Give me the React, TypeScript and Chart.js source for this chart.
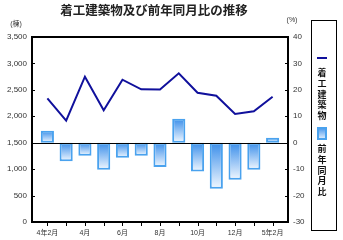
import React, { useEffect, useRef } from 'react';
import { Chart, registerables } from 'chart.js';

Chart.register(...registerables);

const categories = ['4年2月', '3月', '4月', '5月', '6月', '7月', '8月', '9月', '10月', '11月', '12月', '5年1月', '5年2月'];
const buildings = [2340, 1917, 2749, 2113, 2692, 2510, 2505, 2813, 2446, 2390, 2043, 2094, 2371];
const yoyRatio = [4.5, -7.0, -4.9, -10.2, -5.7, -4.9, -9.2, 9.1, -10.9, -17.4, -14.0, -10.2, 1.9];
const titleText = '着工建築物及び前年同月比の推移';
const leftUnit = '(棟)';
const rightUnit = '(%)';
const legendLine = '着工建築物';
const legendBar = '前年同月比';

const LINE_COLOR = '#10109C';
const BAR_BORDER = '#4AA2EE';
const BAR_TOP = '#3A8EEA';
const BAR_BOTTOM = '#F2F8FF';
const TEXT = '#333';
const CJK = '"Liberation Sans", "Noto Sans CJK JP", sans-serif';

function barGradient(ctx: CanvasRenderingContext2D, top: number, bottom: number) {
  const g = ctx.createLinearGradient(0, top, 0, Math.max(bottom, top + 1));
  g.addColorStop(0, BAR_TOP);
  g.addColorStop(1, BAR_BOTTOM);
  return g;
}

const decorPlugin = {
  id: 'decor',
  afterDatasetsDraw(chart: any) {
    const { ctx, chartArea, scales } = chart;
    const L = chartArea.left - 6;
    const R = chartArea.right + 6;
    const T = chartArea.top;
    const B = chartArea.bottom;
    ctx.save();
    // zero line
    const z = Math.round(scales.y2.getPixelForValue(0)) + 0.5;
    ctx.strokeStyle = '#000';
    ctx.lineWidth = 1;
    ctx.beginPath();
    ctx.moveTo(L, z);
    ctx.lineTo(R, z);
    ctx.stroke();
    // ticks
    ctx.beginPath();
    for (let v = 0; v <= 3500; v += 500) {
      const y = Math.round(scales.y.getPixelForValue(v)) + 0.5;
      ctx.moveTo(L, y);
      ctx.lineTo(L + 3, y);
    }
    for (let v = -30; v <= 40; v += 10) {
      const y = Math.round(scales.y2.getPixelForValue(v)) + 0.5;
      ctx.moveTo(R - 3, y);
      ctx.lineTo(R, y);
    }
    for (let i = 0; i < categories.length; i++) {
      const x = Math.round(scales.x.getPixelForValue(i)) + 0.5;
      ctx.moveTo(x, B);
      ctx.lineTo(x, B + 4);
    }
    ctx.stroke();
    // frame
    ctx.lineWidth = 2;
    ctx.strokeRect(L, T, R - L, B - T);
    ctx.restore();
  },
  afterDraw(chart: any) {
    const { ctx } = chart;
    ctx.save();
    ctx.fillStyle = '#222';
    ctx.textAlign = 'center';
    ctx.textBaseline = 'middle';
    ctx.font = 'bold 12.5px "Noto Sans CJK JP", sans-serif';
    ctx.fillText(titleText, 154, 10);
    ctx.fillStyle = TEXT;
    ctx.font = '7px ' + CJK;
    ctx.fillText(leftUnit, 16, 24);
    ctx.fillText(rightUnit, 292, 20);
    // legend
    ctx.strokeStyle = '#000';
    ctx.lineWidth = 1;
    ctx.strokeRect(311.5, 20.5, 25, 210);
    ctx.strokeStyle = LINE_COLOR;
    ctx.lineWidth = 2;
    ctx.beginPath();
    ctx.moveTo(317, 58);
    ctx.lineTo(327, 58);
    ctx.stroke();
    ctx.fillStyle = '#111';
    ctx.font = 'bold 9px "Noto Sans CJK JP", sans-serif';
    [...legendLine].forEach((c, i) => ctx.fillText(c, 322, 73 + i * 10.6));
    ctx.fillStyle = barGradient(ctx, 127, 140);
    ctx.fillRect(317, 127, 10, 13);
    ctx.strokeStyle = BAR_BORDER;
    ctx.lineWidth = 2;
    ctx.strokeRect(318, 128, 8, 11);
    ctx.fillStyle = '#111';
    [...legendBar].forEach((c, i) => ctx.fillText(c, 322, 149 + i * 10.6));
    ctx.restore();
  },
};

export default function App() {
  const ref = useRef<HTMLCanvasElement | null>(null);
  useEffect(() => {
    document.body.style.margin = '0';
    const canvas = ref.current;
    if (!canvas) return;
    const chart = new Chart(canvas, {
      type: 'bar',
      data: {
        labels: categories,
        datasets: [
          {
            type: 'line',
            label: legendLine,
            data: buildings,
            yAxisID: 'y',
            borderColor: LINE_COLOR,
            borderWidth: 2,
            pointRadius: 0,
            tension: 0,
            order: 0,
          },
          {
            type: 'bar',
            label: legendBar,
            data: yoyRatio,
            yAxisID: 'y2',
            borderColor: BAR_BORDER,
            borderWidth: 2,
            borderSkipped: false,
            barPercentage: 0.7,
            categoryPercentage: 1,
            order: 1,
            backgroundColor: (c: any) => {
              const chart = c.chart;
              if (!chart.chartArea || c.raw === undefined || !chart.scales.y2) return BAR_TOP;
              const y2 = chart.scales.y2;
              const p0 = y2.getPixelForValue(0);
              const p1 = y2.getPixelForValue(c.raw);
              return barGradient(chart.ctx, Math.min(p0, p1), Math.max(p0, p1));
            },
          },
        ],
      },
      options: {
        animation: false,
        responsive: true,
        maintainAspectRatio: false,
        layout: { padding: { top: 37, left: 0, right: 0, bottom: 0 } },
        plugins: { legend: { display: false }, tooltip: { enabled: false }, title: { display: false } },
        scales: {
          x: {
            type: 'category',
            offset: true,
            grid: { display: false, drawTicks: false },
            border: { display: false },
            ticks: {
              autoSkip: false,
              maxRotation: 0,
              padding: 7,
              color: TEXT,
              font: { size: 7, family: CJK },
              callback: (v: any, i: number) => (i % 2 === 0 ? categories[i] : ''),
            },
            afterFit: (a: any) => { a.height = 18; },
          },
          y: {
            position: 'left',
            min: 0,
            max: 3500,
            grid: { display: false, drawTicks: false },
            border: { display: false },
            ticks: {
              stepSize: 500,
              padding: 11,
              color: TEXT,
              font: { size: 8, family: '"Liberation Sans", sans-serif' },
              callback: (v: any) => Number(v).toLocaleString('en-US'),
            },
            afterFit: (a: any) => { a.width = 38; },
          },
          y2: {
            position: 'right',
            min: -30,
            max: 40,
            grid: { display: false, drawTicks: false },
            border: { display: false },
            ticks: {
              stepSize: 10,
              padding: 11,
              color: TEXT,
              font: { size: 8, family: '"Liberation Sans", sans-serif' },
            },
            afterFit: (a: any) => { a.width = 61; },
          },
        },
      },
      plugins: [decorPlugin],
    } as any);
    return () => chart.destroy();
  }, []);
  return (
    <div style={{ position: 'absolute', left: 0, top: 0, width: 343, height: 240 }}>
      <canvas ref={ref} width={343} height={240} />
    </div>
  );
}
